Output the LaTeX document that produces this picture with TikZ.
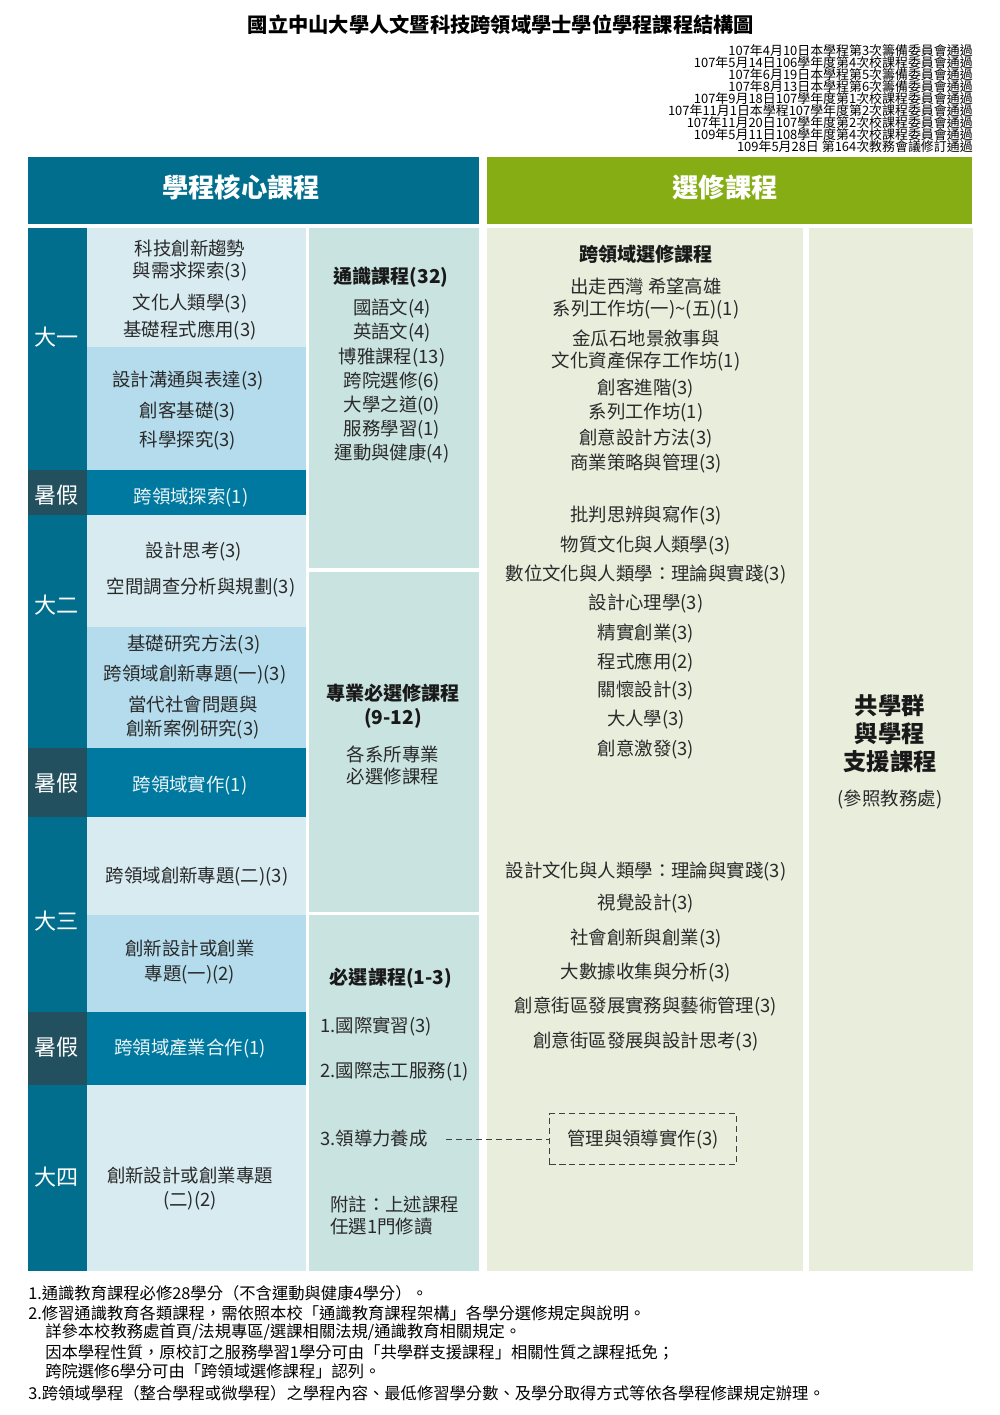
\documentclass[tikz,border=0pt]{standalone}
\usepackage{fontspec}
\setmainfont{Noto Sans CJK TC}
\usepackage{xcolor}
\definecolor{coreteal}{HTML}{006E8C}
\definecolor{summerslate}{HTML}{23505F}
\definecolor{summerblue}{HTML}{0079A0}
\definecolor{lightblue}{HTML}{D7EBF1}
\definecolor{midblue}{HTML}{B4DCEC}
\definecolor{genteal}{HTML}{C9E4E0}
\definecolor{electgreen}{HTML}{86AE14}
\definecolor{electbg}{HTML}{E9EDDC}
\definecolor{bodygrey}{HTML}{2A2A2A}
\newcommand{\setsz}[2]{\fontsize{#1}{#2}\selectfont}

\begin{document}
\begin{tikzpicture}[x=0.025cm, y=-0.025cm,
	coursetxt/.style={inner sep=0pt, align=center, text=bodygrey, font=\setsz{13.1pt}{15.65pt}},
	listtxt/.style={inner sep=0pt, align=center, text=bodygrey, font=\setsz{13.1pt}{17.07pt}},
	sectxt/.style={inner sep=0pt, align=center, text=black!90, font=\setsz{13.6pt}{17.07pt}\bfseries},
	summertxt/.style={inner sep=0pt, text=white!92!summerblue, font=\setsz{13.1pt}{15.65pt}},
	yeartxt/.style={inner sep=0pt, text=white, font=\setsz{15.7pt}{18pt}},
	headtxt/.style={inner sep=0pt, text=white, font=\setsz{18.7pt}{22pt}\bfseries},
	notetxt/.style={inner sep=0pt, anchor=west, text=black, font=\setsz{11.6pt}{14pt}},
	linkline/.style={draw=black!75, line width=0.6pt, dash pattern=on 4.3pt off 2.8pt}]
	\useasboundingbox (0, 0) rectangle (1000, 1415);

	\draw (501, 25) 	node[inner sep=0pt, font=\setsz{14.4pt}{17pt}\bfseries] 	(title) 	{國立中山大學人文暨科技跨領域學士學位學程課程結構圖};
	\draw (973, 98.5) 	node[inner sep=0pt, anchor=east, align=right, font=\setsz{9.2pt}{8.6pt}] 	(dates) 	{107年4月10日本學程第3次籌備委員會通過\\107年5月14日106學年度第4次校課程委員會通過\\107年6月19日本學程第5次籌備委員會通過\\107年8月13日本學程第6次籌備委員會通過\\107年9月18日107學年度第1次校課程委員會通過\\107年11月1日本學程107學年度第2次課程委員會通過\\107年11月20日107學年度第2次校課程委員會通過\\109年5月11日108學年度第4次校課程委員會通過\\109年5月28日 第164次教務會議修訂通過};

	\fill[coreteal] 	(28, 157) rectangle (479, 224);
	\fill[electgreen] 	(487, 157) rectangle (972, 224);

	\fill[coreteal] 	(28, 228) rectangle (87, 470);
	\fill[summerslate] 	(28, 470) rectangle (87, 515);
	\fill[coreteal] 	(28, 515) rectangle (87, 748);
	\fill[summerslate] 	(28, 748) rectangle (87, 817);
	\fill[coreteal] 	(28, 817) rectangle (87, 1012);
	\fill[summerslate] 	(28, 1012) rectangle (87, 1085);
	\fill[coreteal] 	(28, 1085) rectangle (87, 1271);

	\fill[lightblue] 	(87, 228) rectangle (306, 347);
	\fill[midblue] 		(87, 347) rectangle (306, 470);
	\fill[summerblue] 	(87, 470) rectangle (306, 515);
	\fill[lightblue] 	(87, 515) rectangle (306, 627);
	\fill[midblue] 		(87, 627) rectangle (306, 748);
	\fill[summerblue] 	(87, 748) rectangle (306, 817);
	\fill[lightblue] 	(87, 817) rectangle (306, 915);
	\fill[midblue] 		(87, 915) rectangle (306, 1012);
	\fill[summerblue] 	(87, 1012) rectangle (306, 1085);
	\fill[lightblue] 	(87, 1085) rectangle (306, 1271);

	\fill[genteal] 		(309, 228) rectangle (479, 568);
	\fill[genteal] 		(309, 572) rectangle (479, 912);
	\fill[genteal] 		(309, 915) rectangle (479, 1271);

	\fill[electbg] 		(487, 228) rectangle (803, 1271);
	\fill[electbg] 		(809, 228) rectangle (973, 1271);

	\draw (241, 187) 	node[headtxt] 	(core) 		{學程核心課程};
	\draw (725, 187) 	node[headtxt] 	(elect) 	{選修課程};

	\draw (57, 337) 	node[yeartxt] 	(y1) 		{大一};
	\draw (57, 495) 	node[yeartxt] 	(y1_s) 		{暑假};
	\draw (57, 605) 	node[yeartxt] 	(y2) 		{大二};
	\draw (57, 783) 	node[yeartxt] 	(y2_s) 		{暑假};
	\draw (57, 921) 	node[yeartxt] 	(y3) 		{大三};
	\draw (57, 1047) 	node[yeartxt] 	(y3_s) 		{暑假};
	\draw (57, 1177) 	node[yeartxt] 	(y4) 		{大四};

	\draw (190, 261) 	node[coursetxt] 	(y1_a) 		{科技創新趨勢\\與需求探索(3)};
	\draw (190, 303) 	node[coursetxt] 	(y1_b) 		{文化人類學(3)};
	\draw (190, 330) 	node[coursetxt] 	(y1_c) 		{基礎程式應用(3)};
	\draw (188, 381) 	node[coursetxt] 	(y1_d) 		{設計溝通與表達(3)};
	\draw (188, 411) 	node[coursetxt] 	(y1_e) 		{創客基礎(3)};
	\draw (188, 441) 	node[coursetxt] 	(y1_f) 		{科學探究(3)};
	\draw (191, 497) 	node[summertxt] 	(y1_ss) 	{跨領域探索(1)};
	\draw (194, 552) 	node[coursetxt] 	(y2_a) 		{設計思考(3)};
	\draw (201, 588) 	node[coursetxt] 	(y2_b) 		{空間調查分析與規劃(3)};
	\draw (194, 645) 	node[coursetxt] 	(y2_c) 		{基礎研究方法(3)};
	\draw (195, 674) 	node[coursetxt] 	(y2_d) 		{跨領域創新專題(一)(3)};
	\draw (193, 718) 	node[listtxt] 		(y2_e) 		{當代社會問題與\\創新案例研究(3)};
	\draw (190, 785) 	node[summertxt] 	(y2_ss) 	{跨領域實作(1)};
	\draw (197, 876) 	node[coursetxt] 	(y3_a) 		{跨領域創新專題(二)(3)};
	\draw (190, 962) 	node[listtxt] 		(y3_b) 		{創新設計或創業\\專題(一)(2)};
	\draw (190, 1048) 	node[summertxt] 	(y3_ss) 	{跨領域產業合作(1)};
	\draw (190, 1188) 	node[listtxt] 		(y4_a) 		{創新設計或創業專題\\(二)(2)};

	\draw (391, 277) 	node[sectxt] 	(gen) 		{通識課程(32)};
	\draw (392, 381) 	node[listtxt] 	(gen_a) 	{國語文(4)\\英語文(4)\\博雅課程(13)\\跨院選修(6)\\大學之道(0)\\服務學習(1)\\運動與健康(4)};
	\draw (393, 706) 	node[sectxt] 	(major) 	{專業必選修課程\\(9-12)};
	\draw (393, 765) 	node[coursetxt] 	(major_a) 	{各系所專業\\必選修課程};
	\draw (391, 978) 	node[sectxt] 	(req) 		{必選課程(1-3)};
	\draw (320, 1026) 	node[coursetxt, anchor=west] 	(req_a) 	{1.國際實習(3)};
	\draw (320, 1072) 	node[coursetxt, anchor=west] 	(req_b) 	{2.國際志工服務(1)};
	\draw (320, 1138) 	node[coursetxt, anchor=west] 	(lead) 		{3.領導力養成};
	\draw (330, 1215) 	node[coursetxt, anchor=west, align=left] 	(remark) 	{附註：上述課程\\任選1門修讀};

	\draw (646, 254) 	node[sectxt] 		(cross) 	{跨領域選修課程};
	\draw (646, 298.5) 	node[coursetxt] 	(cross_1) 	{出走西灣 希望高雄\\系列工作坊(一)\textasciitilde(五)(1)};
	\draw (646, 350.5) 	node[coursetxt] 	(cross_2) 	{金瓜石地景敘事與\\文化資產保存工作坊(1)};
	\draw (646, 388) 	node[coursetxt] 	(cross_3) 	{創客進階(3)};
	\draw (646, 413) 	node[coursetxt] 	(cross_4) 	{系列工作坊(1)};
	\draw (646, 438) 	node[coursetxt] 	(cross_5) 	{創意設計方法(3)};
	\draw (646, 463) 	node[coursetxt] 	(cross_6) 	{商業策略與管理(3)};
	\draw (646, 516) 	node[coursetxt] 	(cross_7) 	{批判思辨與寫作(3)};
	\draw (646, 545) 	node[coursetxt] 	(cross_8) 	{物質文化與人類學(3)};
	\draw (646, 574) 	node[coursetxt] 	(cross_9) 	{數位文化與人類學：理論與實踐(3)};
	\draw (646, 604) 	node[coursetxt] 	(cross_10) 	{設計心理學(3)};
	\draw (646, 633) 	node[coursetxt] 	(cross_11) 	{精實創業(3)};
	\draw (646, 662) 	node[coursetxt] 	(cross_12) 	{程式應用(2)};
	\draw (646, 691) 	node[coursetxt] 	(cross_13) 	{關懷設計(3)};
	\draw (646, 720) 	node[coursetxt] 	(cross_14) 	{大人學(3)};
	\draw (646, 749) 	node[coursetxt] 	(cross_15) 	{創意激發(3)};
	\draw (646, 871) 	node[coursetxt] 	(cross_16) 	{設計文化與人類學：理論與實踐(3)};
	\draw (646, 904) 	node[coursetxt] 	(cross_17) 	{視覺設計(3)};
	\draw (646, 939) 	node[coursetxt] 	(cross_18) 	{社會創新與創業(3)};
	\draw (646, 973) 	node[coursetxt] 	(cross_19) 	{大數據收集與分析(3)};
	\draw (646, 1006) 	node[coursetxt] 	(cross_20) 	{創意街區發展實務與藝術管理(3)};
	\draw (646, 1041) 	node[coursetxt] 	(cross_21) 	{創意街區發展與設計思考(3)};
	\draw (643, 1139) 	node[coursetxt, linkline, minimum width=4.675cm, minimum height=1.275cm] 	(mgmt) 	{管理與領導實作(3)};

	\draw (890, 734) 	node[sectxt, font=\setsz{16.6pt}{19.9pt}\bfseries] 	(share) 	{共學群\\與學程\\支援課程};
	\draw (890, 800) 	node[coursetxt] 	(share_a) 	{(參照教務處)};

	\draw[linkline, shorten <=12.8pt] (lead.east |- mgmt.west) -- (mgmt.west);

	\draw (28, 1293) 	node[notetxt] 	(note1) 	{1.通識教育課程必修28學分（不含運動與健康4學分）。};
	\draw (28, 1313) 	node[notetxt] 	(note2) 	{2.修習通識教育各類課程，需依照本校「通識教育課程架構」各學分選修規定與說明。};
	\draw (45, 1332) 	node[notetxt] 	(note2_a) 	{詳參本校教務處首頁/法規專區/選課相關法規/通識教育相關規定。};
	\draw (45, 1352) 	node[notetxt] 	(note2_b) 	{因本學程性質，原校訂之服務學習1學分可由「共學群支援課程」相關性質之課程抵免；};
	\draw (45, 1371) 	node[notetxt] 	(note2_c) 	{跨院選修6學分可由「跨領域選修課程」認列。};
	\draw (28, 1393) 	node[notetxt] 	(note3) 	{3.跨領域學程（整合學程或微學程）之學程內容、最低修習學分數、及學分取得方式等依各學程修課規定辦理。};
\end{tikzpicture}
\end{document}
